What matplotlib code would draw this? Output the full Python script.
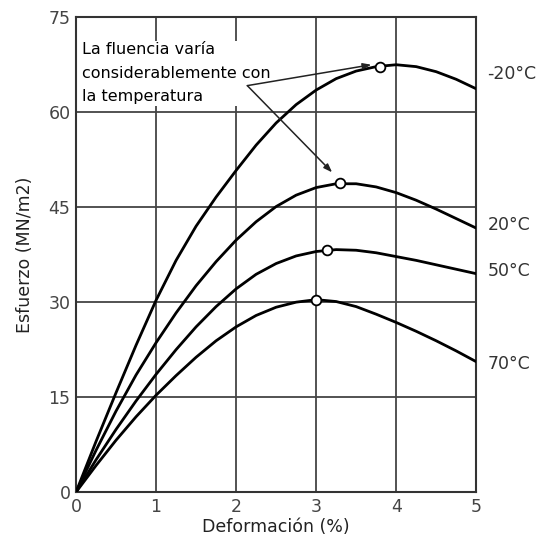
import numpy as np
import matplotlib.pyplot as plt

# Curvas esfuerzo-deformación a distintas temperaturas
deformacion = [0, 0.25, 0.5, 0.75, 1.0, 1.25, 1.5, 1.75, 2.0, 2.25, 2.5,
               2.75, 3.0, 3.25, 3.5, 3.75, 4.0, 4.25, 4.5, 4.75, 5.0]

esf_m20 = [0, 8.0, 15.7, 23.2, 30.3, 36.6, 42.0, 46.6, 50.8, 54.8, 58.3,
           61.2, 63.5, 65.3, 66.5, 67.2, 67.5, 67.2, 66.4, 65.2, 63.7]
esf_20 = [0, 6.6, 12.8, 18.5, 23.6, 28.3, 32.6, 36.4, 39.8, 42.7, 45.1,
          46.9, 48.1, 48.7, 48.7, 48.2, 47.3, 46.1, 44.7, 43.2, 41.7]
esf_50 = [0, 5.1, 9.9, 14.4, 18.6, 22.5, 26.1, 29.3, 32.1, 34.4, 36.1,
          37.3, 38.0, 38.3, 38.2, 37.8, 37.2, 36.6, 35.9, 35.2, 34.5]
esf_70 = [0, 4.2, 8.2, 11.9, 15.3, 18.4, 21.3, 23.9, 26.1, 27.9, 29.2,
          30.0, 30.4, 30.1, 29.3, 28.1, 26.8, 25.4, 23.9, 22.3, 20.6]

curvas = [esf_m20, esf_20, esf_50, esf_70]
etiquetas = ['-20°C', '20°C', '50°C', '70°C']
etiqueta_y = [66, 42.2, 34.9, 20.2]

# puntos de fluencia (círculos abiertos)
fluencia_x = [3.8, 3.3, 3.13, 3.0]
fluencia_y = [67.2, 48.8, 38.2, 30.4]

x_ticks = [0, 1, 2, 3, 4, 5]
y_ticks = [0, 15, 30, 45, 60, 75]

fig = plt.figure(figsize=(5.43, 5.39), dpi=100)
ax = fig.add_axes([0.140, 0.087, 0.737, 0.881])

for y in curvas:
    ax.plot(deformacion, y, color='black', lw=2.0, solid_joinstyle='round',
            solid_capstyle='round', zorder=3)

ax.plot(fluencia_x, fluencia_y, 'o', ms=7, mfc='white', mec='black', mew=1.3, zorder=5)

for lab, yl in zip(etiquetas, etiqueta_y):
    ax.text(5.14, yl, lab, fontsize=12.5, color='#333333', va='center', ha='left',
            clip_on=False)

ax.text(0.07, 71.1, 'La fluencia varía\nconsiderablemente con\nla temperatura',
        fontsize=11.5, va='top', ha='left', linespacing=1.72, zorder=4,
        bbox=dict(facecolor='white', edgecolor='none', pad=1))

# flechas desde el texto hacia los puntos de fluencia
for destino in [(3.69, 67.5), (3.2, 50.5)]:
    ax.annotate('', xy=destino, xytext=(2.14, 64.2),
                arrowprops=dict(arrowstyle='-|>,head_length=0.5,head_width=0.18',
                                color='#222222', lw=1.1, shrinkA=0, shrinkB=0),
                zorder=4)

ax.set_xlim(0, 5)
ax.set_ylim(0, 75)
ax.set_xticks(x_ticks)
ax.set_yticks(y_ticks)
ax.tick_params(length=0, labelsize=12.5, labelcolor='#444444', pad=4)
ax.grid(True, color='#444444', lw=1.3)
ax.set_axisbelow(True)
for s in ax.spines.values():
    s.set_color('#333333')
    s.set_linewidth(1.5)

ax.set_xlabel('Deformación (%)', fontsize=12.5, color='#222222', labelpad=2)
ax.set_ylabel('Esfuerzo (MN/m2)', fontsize=12.5, color='#222222', labelpad=10)

fig.savefig('out.png', dpi=100)
